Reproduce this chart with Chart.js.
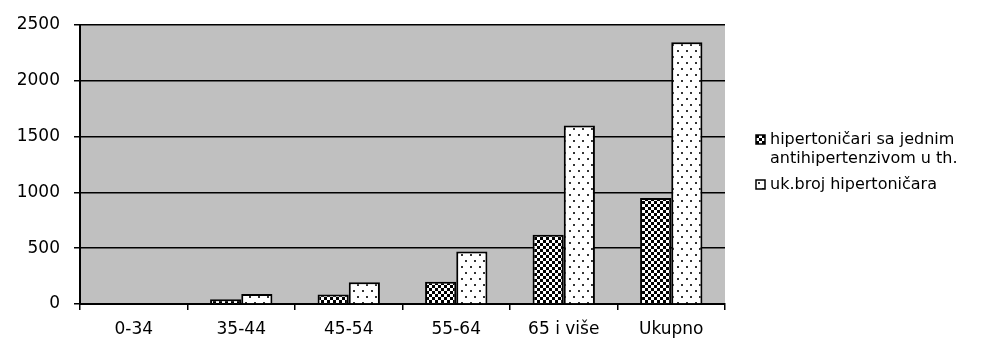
<!DOCTYPE html>
<html>
<head>
<meta charset="utf-8">
<script src="https://cdn.jsdelivr.net/npm/chart.js@4/dist/chart.umd.min.js"></script>
<style>
  html, body { margin: 0; padding: 0; background: #ffffff; }
  #wrap { width: 999px; height: 350px; position: relative; }
</style>
</head>
<body>
<div id="wrap"><canvas id="c" width="999" height="350"></canvas></div>
<script>
// Age groups and counts of hypertensive patients
const categories = ['0-34', '35-44', '45-54', '55-64', '65 i više', 'Ukupno'];
const jednimAntihipertenzivom = [0, 42, 85, 200, 620, 950];
const ukupnoHipertonicara = [0, 90, 195, 470, 1600, 2345];
const seriesLabels = [
  ['hipertoničari sa jednim', 'antihipertenzivom u th.'],
  ['uk.broj hipertoničara']
];
const yTicks = [0, 500, 1000, 1500, 2000, 2500];

const FONT = 'DejaVu Sans';

// Fill patterns: black/white checkerboard and white with sparse dots
function checkerPattern() {
  const t = document.createElement('canvas');
  t.width = 6; t.height = 6;
  const g = t.getContext('2d');
  g.fillStyle = '#000';
  g.fillRect(0, 0, 6, 6);
  g.fillStyle = '#fff';
  g.fillRect(0, 0, 3, 3);
  g.fillRect(3, 3, 3, 3);
  return g.createPattern(t, 'repeat');
}
function dotPattern() {
  const t = document.createElement('canvas');
  t.width = 9; t.height = 12;
  const g = t.getContext('2d');
  g.fillStyle = '#fff';
  g.fillRect(0, 0, 9, 12);
  g.fillStyle = '#333';
  g.fillRect(2, 2, 2, 2);
  g.fillRect(6, 8, 2, 2);
  return g.createPattern(t, 'repeat');
}
const darkFill = checkerPattern();
const lightFill = dotPattern();

// Gray plot background
const plotBackground = {
  id: 'plotBackground',
  beforeDraw(chart) {
    const { ctx, chartArea: a } = chart;
    ctx.save();
    ctx.fillStyle = '#c0c0c0';
    ctx.fillRect(a.left, a.top, a.right - a.left, a.bottom - a.top);
    ctx.restore();
  }
};

// Legend drawn to the right of the plot
const sideLegend = {
  id: 'sideLegend',
  afterDraw(chart) {
    const { ctx } = chart;
    const fills = [darkFill, lightFill];
    const rows = [140, 185];
    ctx.save();
    ctx.font = '16px "' + FONT + '"';
    ctx.textBaseline = 'middle';
    ctx.textAlign = 'left';
    seriesLabels.forEach((lines, i) => {
      const y = rows[i];
      ctx.fillStyle = fills[i];
      ctx.fillRect(756, y - 5, 9, 9);
      ctx.strokeStyle = '#000';
      ctx.lineWidth = 1.5;
      ctx.strokeRect(756, y - 5, 9, 9);
      ctx.fillStyle = '#000';
      lines.forEach((txt, k) => ctx.fillText(txt, 770, y + k * 19));
    });
    ctx.restore();
  }
};

new Chart(document.getElementById('c'), {
  type: 'bar',
  data: {
    labels: categories,
    datasets: [
      {
        label: seriesLabels[0].join(' '),
        data: jednimAntihipertenzivom,
        backgroundColor: darkFill,
        borderColor: '#000',
        borderWidth: 2
      },
      {
        label: seriesLabels[1].join(' '),
        data: ukupnoHipertonicara,
        backgroundColor: lightFill,
        borderColor: '#000',
        borderWidth: 2
      }
    ]
  },
  options: {
    responsive: false,
    animation: false,
    events: [],
    layout: { padding: { left: 0, right: 274, top: 25, bottom: 0 } },
    datasets: { bar: { categoryPercentage: 0.58, barPercentage: 1.0 } },
    plugins: { legend: { display: false }, tooltip: { enabled: false } },
    scales: {
      x: {
        grid: { offset: true, drawOnChartArea: false, color: '#000', lineWidth: 1.5, tickLength: 6 },
        border: { color: '#000', width: 2 },
        ticks: { color: '#000', font: { family: FONT, size: 17 }, padding: 9, maxRotation: 0 },
        afterFit(s) { s.height = 46; }
      },
      y: {
        min: 0,
        max: 2500,
        afterBuildTicks(s) { s.ticks = yTicks.map(v => ({ value: v })); },
        grid: { color: '#000', lineWidth: 1.5, tickLength: 6 },
        border: { color: '#000', width: 2 },
        ticks: {
          color: '#000',
          font: { family: FONT, size: 17 },
          padding: 14,
          callback: v => String(v)
        },
        afterFit(s) { s.width = 80; }
      }
    }
  },
  plugins: [plotBackground, sideLegend]
});
</script>
</body>
</html>
